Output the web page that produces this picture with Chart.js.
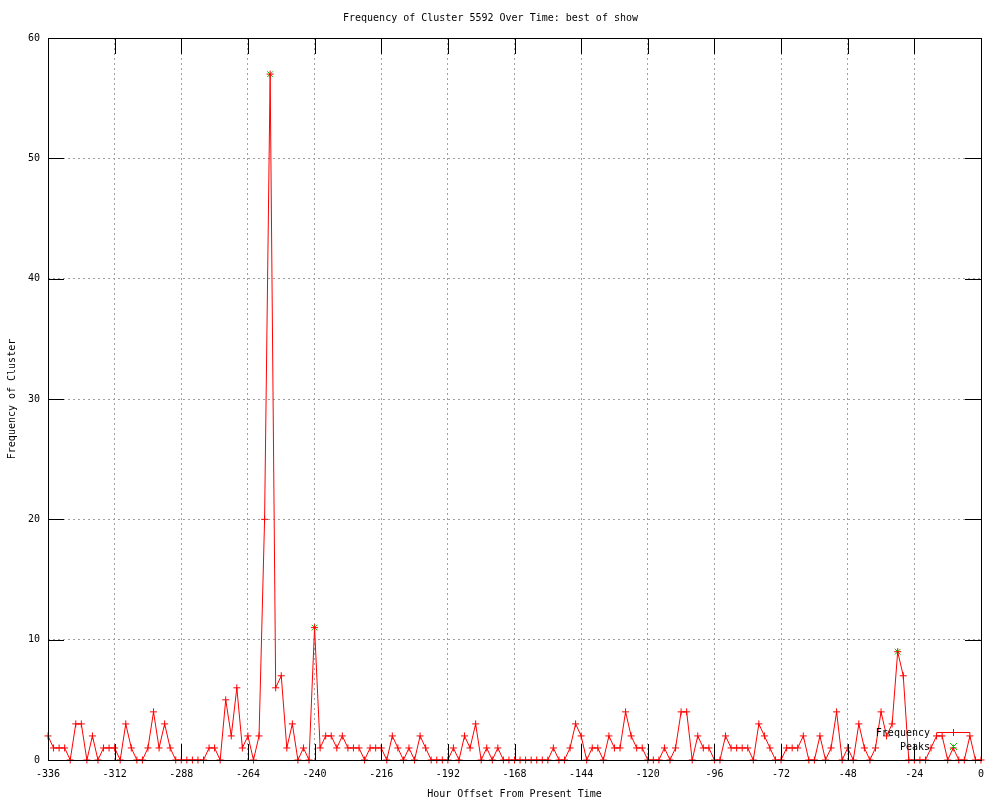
<!DOCTYPE html>
<html>
<head>
<meta charset="utf-8">
<title>Frequency of Cluster 5592</title>
<script src="https://cdn.jsdelivr.net/npm/chart.js@4/dist/chart.umd.min.js"></script>
<style>
  html, body { margin: 0; padding: 0; background: #fff; }
  #wrap { width: 1000px; height: 800px; }
</style>
</head>
<body>
<div id="wrap"><canvas id="line-chart" width="1000" height="800"></canvas></div>
<script>
// hour offsets, one sample every 2 hours
const hours = [
  -336,-334,-332,-330,-328,-326,-324,-322,-320,-318,
  -316,-314,-312,-310,-308,-306,-304,-302,-300,-298,
  -296,-294,-292,-290,-288,-286,-284,-282,-280,-278,
  -276,-274,-272,-270,-268,-266,-264,-262,-260,-258,
  -256,-254,-252,-250,-248,-246,-244,-242,-240,-238,
  -236,-234,-232,-230,-228,-226,-224,-222,-220,-218,
  -216,-214,-212,-210,-208,-206,-204,-202,-200,-198,
  -196,-194,-192,-190,-188,-186,-184,-182,-180,-178,
  -176,-174,-172,-170,-168,-166,-164,-162,-160,-158,
  -156,-154,-152,-150,-148,-146,-144,-142,-140,-138,
  -136,-134,-132,-130,-128,-126,-124,-122,-120,-118,
  -116,-114,-112,-110,-108,-106,-104,-102,-100,-98,
  -96,-94,-92,-90,-88,-86,-84,-82,-80,-78,
  -76,-74,-72,-70,-68,-66,-64,-62,-60,-58,
  -56,-54,-52,-50,-48,-46,-44,-42,-40,-38,
  -36,-34,-32,-30,-28,-26,-24,-22,-20,-18,
  -16,-14,-12,-10,-8,-6,-4,-2,0
];

const frequency = [
  2,1,1,1,0,3,3,0,2,0,
  1,1,1,0,3,1,0,0,1,4,
  1,3,1,0,0,0,0,0,0,1,
  1,0,5,2,6,1,2,0,2,20,
  57,6,7,1,3,0,1,0,11,1,
  2,2,1,2,1,1,1,0,1,1,
  1,0,2,1,0,1,0,2,1,0,
  0,0,0,1,0,2,1,3,0,1,
  0,1,0,0,0,0,0,0,0,0,
  0,1,0,0,1,3,2,0,1,1,
  0,2,1,1,4,2,1,1,0,0,
  0,1,0,1,4,4,0,2,1,1,
  0,0,2,1,1,1,1,0,3,2,
  1,0,0,1,1,1,2,0,0,2,
  0,1,4,0,1,0,3,1,0,1,
  4,2,3,9,7,0,0,0,0,1,
  2,2,0,1,0,0,2,0,0
];

const peakHours = [-256, -240, -30];
const peakValues = [57, 11, 9];

const xTicks = { min: -336, max: 0, step: 24 };
const yTicks = { min: 0, max: 60, step: 10 };

const monoFont = '"DejaVu Sans Mono", "Liberation Mono", monospace';
const peakGreen = '#00c000';

// gnuplot style frame: border, inward ticks on all four sides, key in the corner
const framePlugin = {
  id: 'frame',
  afterDatasetsDraw(chart) {
    const ctx = chart.ctx;
    const a = chart.chartArea;
    const sx = chart.scales.x, sy = chart.scales.y;
    ctx.save();
    ctx.strokeStyle = '#000';
    ctx.lineWidth = 1;
    ctx.beginPath();
    sx.ticks.forEach(t => {
      const px = Math.round(sx.getPixelForValue(t.value)) + 0.5;
      ctx.moveTo(px, a.bottom); ctx.lineTo(px, a.bottom - 16);
      ctx.moveTo(px, a.top); ctx.lineTo(px, a.top + 16);
    });
    sy.ticks.forEach(t => {
      const py = Math.round(sy.getPixelForValue(t.value)) + 0.5;
      ctx.moveTo(a.left, py); ctx.lineTo(a.left + 16, py);
      ctx.moveTo(a.right, py); ctx.lineTo(a.right - 16, py);
    });
    ctx.stroke();
    ctx.strokeRect(Math.round(a.left) + 0.5, Math.round(a.top) + 0.5,
      Math.round(a.right - a.left), Math.round(a.bottom - a.top));

    // key
    const kx = a.right - 51;
    const ky1 = a.bottom - 28, ky2 = a.bottom - 14;
    ctx.font = '10px ' + monoFont;
    ctx.fillStyle = '#000';
    ctx.textAlign = 'right';
    ctx.textBaseline = 'middle';
    ctx.fillText('Frequency', kx, ky1 + 1);
    ctx.fillText('Peaks', kx, ky2 + 1);
    ctx.strokeStyle = '#ff0000';
    ctx.beginPath();
    ctx.moveTo(kx + 7, ky1 + 0.5); ctx.lineTo(kx + 40, ky1 + 0.5);
    ctx.moveTo(kx + 23.5, ky1 - 3); ctx.lineTo(kx + 23.5, ky1 + 4);
    ctx.stroke();
    ctx.strokeStyle = peakGreen;
    ctx.beginPath();
    ctx.moveTo(kx + 20, ky2 - 3); ctx.lineTo(kx + 27, ky2 + 4);
    ctx.moveTo(kx + 27, ky2 - 3); ctx.lineTo(kx + 20, ky2 + 4);
    ctx.stroke();
    ctx.restore();
  }
};

new Chart(document.getElementById('line-chart'), {
  type: 'line',
  data: {
    datasets: [{
        label: 'Frequency',
        data: hours.map((h, i) => ({ x: h, y: frequency[i] })),
        borderColor: '#ff0000',
        borderWidth: 1,
        pointStyle: 'cross',
        pointRadius: 3.5,
        pointBorderWidth: 1,
        pointBorderColor: '#ff0000',
        tension: 0,
        fill: false,
        clip: 6
      }, {
        label: 'Peaks',
        data: peakHours.map((h, i) => ({ x: h, y: peakValues[i] })),
        showLine: false,
        borderColor: peakGreen,
        pointStyle: 'crossRot',
        pointRadius: 4,
        pointBorderWidth: 1,
        pointBorderColor: peakGreen,
        clip: false
      }
    ]
  },
  options: {
    responsive: false,
    animation: false,
    events: [],
    layout: { padding: { left: 0, right: 19, top: 0, bottom: 0 } },
    plugins: {
      legend: { display: false },
      tooltip: { enabled: false },
      title: {
        display: true,
        text: 'Frequency of Cluster 5592 Over Time: best of show',
        color: '#000',
        font: { family: monoFont, size: 10, weight: 'normal', lineHeight: 1.2 },
        padding: { top: 12, bottom: 14 }
      }
    },
    scales: {
      x: {
        type: 'linear',
        min: xTicks.min,
        max: xTicks.max,
        afterFit(scale) { scale.height = 40; },
        ticks: {
          stepSize: xTicks.step,
          color: '#000',
          padding: 8,
          maxRotation: 0,
          autoSkip: false,
          font: { family: monoFont, size: 10 }
        },
        grid: { color: '#a0a0a0', lineWidth: 1, drawTicks: false },
        border: { display: false, dash: [2, 3] },
        title: {
          display: true,
          text: 'Hour Offset From Present Time',
          color: '#000',
          font: { family: monoFont, size: 10 },
          padding: { top: 6, bottom: 0 }
        }
      },
      y: {
        min: yTicks.min,
        max: yTicks.max,
        afterFit(scale) { scale.width = 48; },
        ticks: {
          stepSize: yTicks.step,
          color: '#000',
          padding: 8,
          font: { family: monoFont, size: 10 }
        },
        grid: { color: '#a0a0a0', lineWidth: 1, drawTicks: false },
        border: { display: false, dash: [2, 3] },
        title: {
          display: true,
          text: 'Frequency of Cluster',
          color: '#000',
          font: { family: monoFont, size: 10 },
          padding: { top: 6, bottom: 0 }
        }
      }
    }
  },
  plugins: [framePlugin]
});
</script>
</body>
</html>
